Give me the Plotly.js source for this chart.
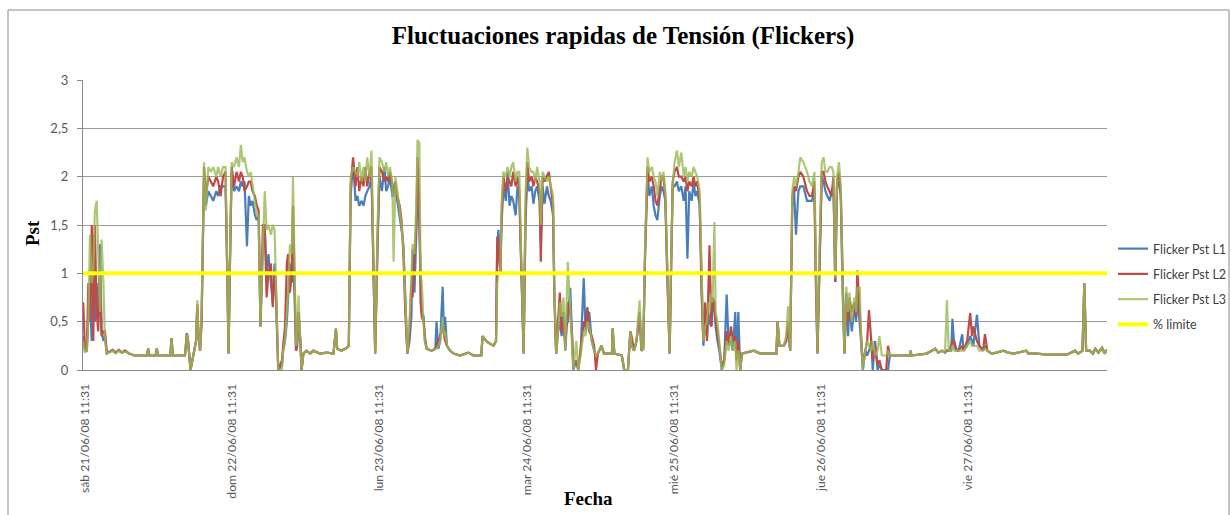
<!DOCTYPE html>
<html>
<head>
<meta charset="utf-8">
<script src="https://cdn.plot.ly/plotly-3.0.1.min.js"></script>
<style>html,body{margin:0;padding:0;background:#fff;}#chart{width:1231px;height:515px;}</style>
</head>
<body>
<div id="chart"></div>
<script>
// Hours elapsed since sáb 21/06/08 11:31
const horas = [
  -0.3, 0.0, 0.3, 0.55, 0.8, 1.1, 1.35, 1.6, 1.9, 2.15,
  2.45, 2.7, 3.0, 3.25, 3.55, 4.0, 4.5, 5.0, 5.5, 6.0,
  6.5, 7.2, 8.0, 10.1, 10.3, 10.5, 11.5, 11.7, 11.9, 13.9,
  14.1, 14.3, 16.3, 16.6, 16.8, 17.2, 17.7, 18.1, 18.3, 18.5,
  18.75, 19.0, 19.4, 19.7, 20.1, 20.5, 20.9, 21.4, 21.7, 22.1,
  22.5, 22.9, 23.2, 23.4, 23.6, 23.9, 24.3, 24.7, 25.1, 25.4,
  25.7, 26.0, 26.4, 26.7, 27.0, 27.3, 27.7, 28.0, 28.3, 28.6,
  29.0, 29.3, 29.6, 29.9, 30.3, 30.6, 30.9, 31.1, 31.5, 32.1,
  32.3, 32.6, 32.9, 33.1, 33.4, 33.7, 33.9, 34.1, 34.4, 34.6,
  34.8, 35.1, 35.3, 35.6, 36.1, 36.7, 37.2, 38.3, 39.4, 40.5,
  40.9, 41.1, 41.8, 42.7, 43.0, 43.3, 43.7, 44.1, 44.4, 44.7,
  45.1, 45.4, 45.7, 46.0, 46.4, 46.7, 47.0, 47.3, 47.7, 48.0,
  48.4, 48.8, 49.1, 49.4, 49.7, 50.1, 50.3, 50.6, 50.9, 51.3,
  51.6, 51.9, 52.2, 52.55, 52.9, 53.2, 53.4, 53.7, 54.0, 54.2,
  54.5, 54.7, 54.9, 55.2, 55.4, 55.7, 56.5, 57.1, 57.3, 57.6,
  57.9, 58.3, 58.5, 58.7, 59.0, 59.5, 60.1, 61.1, 62.5, 63.3,
  64.6, 64.8, 65.4, 65.8, 66.6, 67.0, 67.2, 67.4, 67.7, 67.9,
  68.2, 68.6, 68.9, 69.2, 69.5, 69.8, 70.2, 70.5, 70.8, 71.1,
  71.5, 71.8, 72.1, 72.4, 72.8, 73.1, 73.4, 73.7, 74.1, 74.3,
  74.6, 74.9, 75.3, 75.6, 75.9, 76.3, 76.5, 76.8, 77.1, 77.4,
  77.7, 78.0, 78.3, 78.5, 78.7, 79.1, 79.4, 79.6, 80.1, 80.4,
  80.8, 81.3, 81.6, 81.9, 82.2, 82.6, 83.0, 83.3, 83.6, 84.2,
  84.6, 85.9, 86.0, 86.3, 87.5, 87.9, 88.5, 88.9, 89.1, 89.5,
  89.9, 90.4, 90.7, 91.0, 91.3, 91.7, 92.0, 92.4, 92.7, 93.0,
  93.3, 93.7, 94.0, 94.3, 94.6, 94.9, 95.3, 95.5, 95.8, 96.1,
  96.5, 96.8, 97.2, 97.6, 97.9, 98.2, 98.5, 98.9, 99.2, 99.5,
  99.8, 100.2, 100.5, 100.8, 101.1, 101.4, 101.6, 101.8, 102.1, 102.3,
  102.6, 102.8, 103.1, 103.4, 103.8, 104.2, 104.6, 104.9, 105.3, 105.6,
  106.0, 106.2, 106.5, 106.8, 107.1, 109.0, 110.1, 112.7, 112.9, 113.2,
  113.9, 114.3, 114.6, 114.95, 115.3, 115.6, 115.9, 116.3, 116.6, 117.1,
  117.7, 118.1, 118.5, 118.9, 119.1, 119.4, 119.7, 120.1, 120.4, 120.7,
  121.0, 121.4, 121.7, 122.0, 122.3, 122.6, 122.9, 123.2, 123.5, 123.8,
  124.1, 124.4, 124.6, 125.0, 125.4, 125.7, 125.9, 126.3, 126.5, 126.8,
  127.2, 127.5, 127.8, 128.2, 128.4, 128.8, 129.2, 129.5, 129.9, 130.6,
  130.9, 131.2, 134.5, 134.6, 134.7, 137.2, 138.0, 138.6, 139.1, 139.7,
  140.2, 140.5, 140.8, 141.2, 141.4, 141.7, 142.0, 142.4, 143.0, 143.2,
  143.8, 144.3, 144.6, 144.8, 145.4, 145.8, 146.4, 146.7, 147.1, 147.8,
  148.6, 149.7, 150.5, 151.4, 153.4, 153.8, 155.2, 156.8, 158.4, 160.1,
  161.4, 161.9, 162.6, 162.9, 163.2, 163.8, 164.3, 164.7, 165.2, 165.8,
  166.2, 166.6
];

const pstL1 = [
  0.35, 0.2, 0.2, 0.6, 0.7, 0.3, 1.4, 0.5, 0.9, 0.5,
  1.3, 0.4, 0.3, 0.35, 0.17, 0.19, 0.21, 0.18, 0.2, 0.18,
  0.2, 0.17, 0.15, 0.15, 0.22, 0.15, 0.15, 0.22, 0.15, 0.15,
  0.33, 0.15, 0.15, 0.38, 0.3, 0.0, 0.17, 0.3, 0.65, 0.35,
  0.2, 0.5, 2.0, 1.7, 1.85, 1.8, 1.75, 1.85, 1.8, 1.9,
  1.9, 1.9, 1.0, 0.17, 1.0, 2.05, 1.85, 1.9, 1.85, 1.95,
  1.9, 1.95, 1.28, 1.8, 1.7, 1.75, 1.6, 1.55, 1.6, 0.45,
  1.3, 1.45, 1.0, 1.2, 0.9, 0.7, 1.1, 0.8, 0.0, 0.05,
  0.2, 0.3, 0.5, 0.8, 1.1, 0.9, 1.2, 0.9, 0.2, 0.25,
  0.6, 0.3, 0.0, 0.17, 0.2, 0.17, 0.2, 0.17, 0.18, 0.17,
  0.43, 0.22, 0.2, 0.23, 0.25, 1.8, 2.15, 1.75, 1.8, 1.7,
  1.75, 1.7, 1.8, 1.85, 1.9, 2.0, 1.2, 0.17, 1.3, 2.0,
  1.85, 2.1, 1.85, 1.9, 2.0, 1.8, 1.8, 1.9, 1.75, 1.6,
  1.45, 1.3, 0.8, 0.17, 0.3, 0.55, 1.25, 0.8, 1.4, 2.0,
  1.5, 0.9, 0.6, 0.55, 0.3, 0.22, 0.2, 0.22, 0.5, 0.22,
  0.3, 0.86, 0.4, 0.55, 0.25, 0.2, 0.17, 0.15, 0.18, 0.15,
  0.15, 0.35, 0.3, 0.28, 0.25, 0.3, 1.3, 1.45, 1.0, 1.5,
  1.9, 1.75, 2.05, 1.7, 1.8, 1.75, 1.6, 1.9, 1.8, 1.1,
  0.17, 1.5, 2.05, 1.85, 1.9, 1.72, 1.85, 1.9, 1.75, 1.3,
  1.9, 1.72, 1.9, 1.8, 1.75, 1.6, 0.8, 0.17, 0.4, 0.5,
  0.35, 0.6, 0.2, 0.45, 0.5, 0.85, 0.3, 0.0, 0.1, 0.0,
  0.2, 0.95, 0.4, 0.55, 0.6, 0.3, 0.2, 0.15, 0.17, 0.25,
  0.17, 0.17, 0.43, 0.17, 0.15, 0.0, 0.0, 0.4, 0.25, 0.2,
  0.3, 0.6, 0.2, 0.22, 1.2, 2.05, 1.8, 1.9, 1.7, 1.6,
  1.55, 1.8, 1.9, 1.85, 1.75, 1.0, 0.17, 0.9, 1.9, 1.9,
  1.95, 1.85, 1.9, 1.75, 1.9, 1.15, 1.85, 1.75, 1.95, 1.8,
  1.85, 1.7, 0.8, 0.25, 0.5, 0.35, 0.6, 0.5, 0.45, 0.6,
  0.7, 0.45, 0.3, 0.2, 0.0, 0.1, 0.78, 0.3, 0.3, 0.2,
  0.6, 0.1, 0.6, 0.0, 0.17, 0.2, 0.17, 0.17, 0.5, 0.25,
  0.25, 0.3, 0.45, 0.2, 1.7, 1.85, 1.4, 1.85, 1.9, 1.9,
  1.75, 1.75, 1.75, 1.85, 1.0, 0.17, 1.0, 2.0, 1.95, 1.85,
  1.8, 1.75, 1.85, 1.9, 0.91, 1.9, 1.95, 1.8, 0.8, 0.17,
  0.8, 0.35, 0.7, 0.4, 0.65, 0.5, 0.8, 0.5, 0.3, 0.0,
  0.2, 0.15, 0.2, 0.3, 0.0, 0.3, 0.0, 0.05, 0.0, 0.0,
  0.0, 0.15, 0.15, 0.2, 0.15, 0.17, 0.2, 0.22, 0.18, 0.2,
  0.18, 0.2, 0.2, 0.2, 0.53, 0.25, 0.2, 0.2, 0.37, 0.2,
  0.25, 0.35, 0.3, 0.25, 0.57, 0.25, 0.2, 0.25, 0.2, 0.17,
  0.18, 0.2, 0.18, 0.17, 0.2, 0.17, 0.17, 0.16, 0.16, 0.16,
  0.2, 0.17, 0.2, 0.9, 0.2, 0.2, 0.17, 0.22, 0.18, 0.23,
  0.17, 0.21
];

const pstL2 = [
  0.7, 0.2, 0.22, 0.9, 0.5, 1.5, 0.3, 1.5, 0.6, 0.4,
  1.0, 0.35, 0.4, 0.4, 0.18, 0.19, 0.2, 0.18, 0.21, 0.18,
  0.2, 0.17, 0.15, 0.15, 0.22, 0.15, 0.15, 0.22, 0.15, 0.15,
  0.33, 0.15, 0.15, 0.38, 0.3, 0.0, 0.17, 0.3, 0.68, 0.35,
  0.2, 0.5, 2.1, 1.8, 2.0, 1.95, 1.9, 2.0, 1.95, 1.8,
  2.0, 2.05, 1.0, 0.17, 1.0, 2.1, 1.9, 2.05, 1.95, 2.05,
  2.0, 1.85, 1.9, 1.95, 1.95, 1.85, 1.8, 1.7, 1.65, 0.45,
  1.5, 1.5, 0.75, 1.0, 1.1, 0.65, 1.0, 0.9, 0.0, 0.1,
  0.25, 0.45, 1.1, 1.2, 0.8, 1.0, 1.7, 1.0, 0.2, 0.3,
  0.6, 0.3, 0.0, 0.17, 0.2, 0.17, 0.2, 0.17, 0.18, 0.17,
  0.42, 0.22, 0.2, 0.23, 0.25, 1.9, 2.2, 1.9, 2.1, 1.85,
  2.0, 1.9, 2.1, 1.9, 2.05, 2.1, 1.2, 0.17, 1.4, 2.1,
  2.05, 1.95, 2.0, 1.95, 2.05, 1.9, 1.85, 1.95, 1.8, 1.7,
  1.55, 1.2, 0.6, 0.17, 0.4, 0.9, 0.75, 1.2, 1.5, 2.2,
  1.7, 0.7, 0.55, 0.5, 0.35, 0.22, 0.2, 0.22, 0.25, 0.3,
  0.35, 0.45, 0.35, 0.3, 0.25, 0.2, 0.17, 0.15, 0.18, 0.15,
  0.15, 0.35, 0.3, 0.28, 0.25, 0.3, 1.38, 1.2, 1.0, 1.6,
  2.0, 1.85, 2.0, 1.95, 1.9, 2.05, 1.9, 2.0, 1.85, 1.1,
  0.17, 1.6, 2.15, 1.95, 2.0, 1.9, 2.0, 1.95, 1.85, 1.12,
  2.0, 1.95, 2.0, 2.05, 1.9, 1.7, 0.8, 0.17, 0.5, 0.8,
  0.4, 0.5, 0.25, 0.45, 0.7, 0.6, 0.35, 0.05, 0.1, 0.0,
  0.2, 0.5, 0.45, 0.65, 0.4, 0.35, 0.25, 0.0, 0.17, 0.25,
  0.17, 0.17, 0.43, 0.17, 0.15, 0.0, 0.0, 0.4, 0.35, 0.2,
  0.3, 0.6, 0.2, 0.22, 1.2, 2.1, 1.95, 2.0, 1.9, 1.75,
  1.7, 1.85, 2.0, 2.0, 1.8, 1.0, 0.17, 0.9, 1.95, 2.05,
  2.1, 2.0, 2.0, 1.95, 2.0, 1.85, 1.95, 1.9, 2.0, 1.9,
  1.95, 1.75, 0.8, 0.3, 0.7, 0.3, 0.8, 1.29, 0.45, 0.75,
  0.7, 0.5, 0.4, 0.25, 0.05, 0.1, 0.4, 0.25, 0.45, 0.3,
  0.35, 0.1, 0.3, 0.0, 0.17, 0.2, 0.17, 0.17, 0.5, 0.25,
  0.25, 0.3, 0.5, 0.2, 1.8, 1.9, 1.85, 2.0, 2.05, 2.0,
  1.85, 1.8, 1.8, 1.95, 1.0, 0.17, 1.1, 2.05, 2.05, 1.95,
  1.9, 1.85, 1.8, 2.0, 0.91, 1.95, 2.05, 1.85, 0.9, 0.17,
  0.7, 0.5, 0.75, 0.6, 0.7, 0.55, 1.03, 0.6, 0.4, 0.05,
  0.2, 0.3, 0.62, 0.25, 0.1, 0.25, 0.05, 0.1, 0.0, 0.0,
  0.25, 0.15, 0.15, 0.2, 0.15, 0.17, 0.2, 0.22, 0.18, 0.2,
  0.18, 0.2, 0.2, 0.25, 0.3, 0.3, 0.22, 0.2, 0.25, 0.2,
  0.3, 0.59, 0.35, 0.45, 0.3, 0.25, 0.2, 0.37, 0.2, 0.17,
  0.18, 0.2, 0.18, 0.17, 0.2, 0.17, 0.17, 0.16, 0.16, 0.16,
  0.2, 0.17, 0.2, 0.9, 0.2, 0.2, 0.17, 0.22, 0.18, 0.23,
  0.17, 0.21
];

const pstL3 = [
  0.3, 0.18, 0.2, 0.5, 1.4, 0.9, 1.0, 1.65, 1.75, 1.2,
  0.6, 1.35, 0.9, 0.3, 0.17, 0.18, 0.2, 0.17, 0.2, 0.18,
  0.19, 0.17, 0.15, 0.15, 0.22, 0.15, 0.15, 0.22, 0.15, 0.15,
  0.33, 0.15, 0.15, 0.37, 0.3, 0.0, 0.17, 0.3, 0.72, 0.35,
  0.2, 0.55, 2.15, 1.65, 2.1, 2.05, 2.1, 2.0, 2.1, 2.0,
  2.1, 2.1, 1.0, 0.17, 1.1, 2.15, 2.1, 2.2, 2.1, 2.33,
  2.15, 2.2, 2.05, 2.0, 2.05, 1.9, 1.75, 1.6, 1.6, 0.45,
  1.3, 1.85, 1.45, 1.5, 1.4, 1.5, 1.45, 0.95, 0.0, 0.0,
  0.2, 0.3, 0.6, 0.8, 1.3, 1.2, 2.0, 1.1, 0.25, 0.3,
  0.77, 0.3, 0.0, 0.17, 0.2, 0.17, 0.2, 0.17, 0.18, 0.17,
  0.43, 0.22, 0.2, 0.23, 0.25, 2.0, 2.1, 2.05, 2.0, 2.15,
  1.95, 2.1, 1.95, 2.2, 2.0, 2.27, 1.3, 0.17, 1.5, 2.2,
  2.15, 2.05, 2.15, 2.0, 2.1, 1.95, 1.12, 2.0, 1.85, 1.65,
  1.5, 1.25, 0.7, 0.17, 0.5, 1.1, 1.3, 1.2, 1.7, 2.38,
  2.35, 1.0, 0.9, 0.45, 0.3, 0.22, 0.2, 0.22, 0.22, 0.25,
  0.3, 0.55, 0.35, 0.4, 0.25, 0.2, 0.17, 0.15, 0.18, 0.15,
  0.15, 0.35, 0.3, 0.28, 0.25, 0.3, 0.9, 1.0, 1.05, 1.7,
  2.05, 2.0, 2.1, 2.0, 2.1, 2.15, 1.95, 2.05, 2.05, 1.2,
  0.17, 1.8, 2.3, 2.1, 2.05, 2.05, 1.95, 2.1, 1.95, 1.5,
  2.05, 2.0, 1.95, 2.0, 1.9, 1.8, 0.9, 0.17, 0.35, 0.7,
  0.55, 0.75, 0.2, 0.6, 1.12, 0.65, 0.3, 0.0, 0.3, 0.0,
  0.15, 0.4, 0.35, 0.5, 0.45, 0.3, 0.2, 0.15, 0.17, 0.25,
  0.17, 0.17, 0.43, 0.17, 0.15, 0.0, 0.0, 0.4, 0.25, 0.2,
  0.3, 0.72, 0.2, 0.22, 1.3, 2.2, 2.05, 2.1, 2.0, 1.95,
  1.8, 2.05, 1.95, 2.05, 1.85, 1.1, 0.17, 1.0, 1.9, 2.15,
  2.27, 2.1, 2.25, 2.0, 2.1, 1.95, 2.05, 2.0, 2.1, 2.05,
  2.0, 1.85, 0.9, 0.3, 0.45, 0.5, 0.7, 0.6, 0.8, 0.7,
  1.53, 0.6, 0.5, 0.3, 0.0, 0.05, 0.3, 0.2, 0.35, 0.2,
  0.3, 0.0, 0.2, 0.0, 0.17, 0.2, 0.17, 0.17, 0.5, 0.25,
  0.25, 0.35, 0.66, 0.2, 1.85, 2.0, 1.9, 2.05, 2.2, 2.15,
  2.05, 1.95, 1.9, 2.05, 1.1, 0.17, 1.2, 2.15, 2.2, 2.05,
  2.05, 2.1, 2.1, 2.05, 0.95, 2.0, 2.15, 1.9, 0.9, 0.17,
  0.86, 0.6, 0.8, 0.5, 0.75, 0.6, 0.85, 0.85, 0.35, 0.0,
  0.2, 0.3, 0.25, 0.2, 0.3, 0.15, 0.2, 0.35, 0.15, 0.15,
  0.2, 0.15, 0.15, 0.2, 0.15, 0.17, 0.2, 0.22, 0.18, 0.2,
  0.18, 0.72, 0.2, 0.2, 0.25, 0.2, 0.2, 0.2, 0.2, 0.2,
  0.25, 0.3, 0.25, 0.25, 0.25, 0.2, 0.2, 0.22, 0.2, 0.17,
  0.18, 0.2, 0.18, 0.17, 0.2, 0.17, 0.17, 0.16, 0.16, 0.16,
  0.2, 0.17, 0.2, 0.9, 0.2, 0.2, 0.17, 0.22, 0.18, 0.23,
  0.17, 0.21
];

const limite = 1;
const etiquetasFecha = ['sáb 21/06/08 11:31', 'dom 22/06/08 11:31', 'lun 23/06/08 11:31',
  'mar 24/06/08 11:31', 'mié 25/06/08 11:31', 'jue 26/06/08 11:31', 'vie 27/06/08 11:31'];
const horasEtiquetas = [0, 24, 48, 72, 96, 120, 144];
const nombresSeries = ['Flicker Pst L1', 'Flicker Pst L2', 'Flicker Pst L3', '% limite'];

if (pstL1.length !== horas.length || pstL2.length !== horas.length || pstL3.length !== horas.length) {
  throw new Error('length mismatch ' + horas.length + ' ' + pstL1.length + ' ' + pstL2.length + ' ' + pstL3.length);
}

const W = 1231, H = 515;
const L = 83, R = 124, T = 80, B = 145;
const pw = W - L - R, ph = H - T - B;
const px = v => (v - L) / pw;
const py = v => (H - B - v) / ph;

const colores = ['#4A7EBB', '#BE4B48', '#98B954', '#FFFF00'];
const serieVals = [pstL1, pstL2, pstL3];

const traces = serieVals.map((vals, i) => ({
  type: 'scatter', mode: 'lines', x: horas, y: vals, name: nombresSeries[i],
  line: {color: colores[i], width: 2.2}, opacity: i === 2 ? 0.8 : 1,
  legendgroup: 'g' + i
}));
traces.push({
  type: 'scatter', mode: 'lines',
  x: [horas[0], horas[horas.length - 1]], y: [limite, limite],
  name: nombresSeries[3], line: {color: colores[3], width: 4}, legendgroup: 'g3'
});

const layout = {
  width: W, height: H,
  margin: {l: L, r: R, t: T, b: B, pad: 0, autoexpand: false},
  paper_bgcolor: '#ffffff', plot_bgcolor: '#ffffff',
  separators: ', ',
  showlegend: true,
  font: {family: 'Lato, "Liberation Sans", sans-serif', color: '#595959'},
  title: {
    text: '<b>Fluctuaciones rapidas de Tensión (Flickers)</b>',
    font: {family: '"Liberation Serif", "Times New Roman", serif', size: 25, color: '#000000'},
    x: 623 / W, xanchor: 'center', y: 1 - 35 / H, yanchor: 'middle'
  },
  xaxis: {
    range: [-0.33, 166.6], showgrid: false, zeroline: false,
    showline: true, linecolor: '#8a8a8a', linewidth: 1,
    tickmode: 'array', tickvals: horasEtiquetas, ticktext: etiquetasFecha,
    tickangle: -90, ticks: '', ticklabelstandoff: 8,
    tickfont: {family: 'Lato, "Open Sans", sans-serif', size: 12.2, color: '#595959'}
  },
  yaxis: {
    range: [0, 3], dtick: 0.5, tick0: 0,
    showgrid: true, gridcolor: '#9a9a9a', gridwidth: 1, zeroline: false,
    showline: true, linecolor: '#8a8a8a', linewidth: 1,
    ticks: 'outside', ticklen: 5, tickcolor: '#8a8a8a', ticklabelstandoff: 6,
    tickfont: {family: 'Lato, "Open Sans", sans-serif', size: 13, color: '#595959'}
  },
  legend: {
    x: px(1113), xanchor: 'left', y: py(234), yanchor: 'top',
    traceorder: 'grouped', tracegroupgap: 6,
    font: {family: 'Lato, "Open Sans", sans-serif', size: 12.5, color: '#404040'},
    bgcolor: 'rgba(0,0,0,0)', itemwidth: 30
  },
  annotations: [
    {text: '<b>Pst</b>', xref: 'paper', yref: 'paper', x: px(32), y: py(233),
     xanchor: 'center', yanchor: 'middle', textangle: -90, showarrow: false,
     font: {family: '"Liberation Serif", "Times New Roman", serif', size: 19, color: '#000000'}},
    {text: '<b>Fecha</b>', xref: 'paper', yref: 'paper', x: px(588), y: py(498),
     xanchor: 'center', yanchor: 'middle', showarrow: false,
     font: {family: '"Liberation Serif", "Times New Roman", serif', size: 19, color: '#000000'}}
  ],
  shapes: [
    {type: 'rect', xref: 'paper', yref: 'paper', x0: px(8), x1: px(1229), y0: py(530), y1: py(10),
     line: {color: '#8c8c8c', width: 1}, fillcolor: 'rgba(0,0,0,0)', layer: 'below'}
  ]
};

Plotly.newPlot('chart', traces, layout, {staticPlot: true, displayModeBar: false});
</script>
</body>
</html>
